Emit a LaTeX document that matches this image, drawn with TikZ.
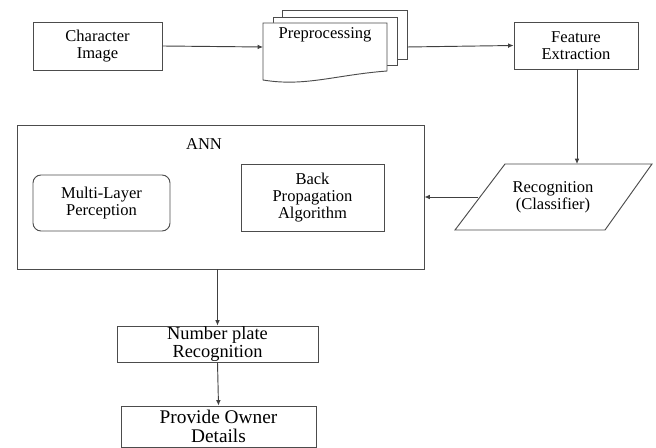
\documentclass[tikz,border=0pt]{standalone}
\usepackage{fontspec}
\setmainfont{Liberation Serif}
\usetikzlibrary{arrows.meta}

\begin{document}
\begin{tikzpicture}[x=0.75pt,y=-0.75pt,
    box/.style={draw=black!70,line width=0.7pt,inner sep=0pt,align=center,
      font=\fontsize{12.4}{12.6}\selectfont},
    doc/.style={draw=black!70,line width=0.7pt,fill=white},
    conn/.style={draw=black!75,line width=0.7pt,-{Latex[length=4pt,width=3.5pt]}}]
  \useasboundingbox (0,0) rectangle (656,448);
  % top row
  \node[box,minimum width=96.75pt,minimum height=36pt] (char) at (97.5,46) {Character\\Image};
  \draw[doc] (282,10) rectangle (407,59);
  \draw[doc] (273,17) rectangle (397,65);
  \draw[doc] (263,23) -- (387,23) -- (387,71)
    .. controls (335,75) and (305,87) .. (263,80) -- cycle;
  \node[font=\fontsize{12.4}{12.6}\selectfont] (pre) at (325,35) {Preprocessing};
  \coordinate (prein) at (263,47);
  \coordinate (preout) at (407,47);
  \node[box,minimum width=93pt,minimum height=35.25pt] (feat) at (576,45.5) {Feature\\Extraction};
  % classifier
  \draw[doc] (505,164) -- (652,164) -- (605,230) -- (455,230) -- cycle;
  \node[align=center,font=\fontsize{12.4}{12.6}\selectfont] (reco) at (553,197) {Recognition\\(Classifier)};
  \coordinate (recotop) at (577,164);
  \coordinate (recoleft) at (478,197);
  % ANN block
  \node[box,minimum width=305.25pt,minimum height=108pt] (ann) at (220.5,197) {};
  \node[font=\fontsize{12.4}{12.6}\selectfont] (annlbl) at (204,144) {ANN};
  \node[box,rounded corners=6pt,minimum width=102.75pt,minimum height=42pt] (mlp) at (101.5,203) {Multi-Layer\\Perception};
  \node[box,minimum width=107.25pt,minimum height=50.25pt] (bp) at (312.5,197.5) {Back\\Propagation\\Algorithm};
  % bottom
  \node[box,minimum width=150.75pt,minimum height=27pt,font=\fontsize{13.8}{13}\selectfont] (npr) at (217.5,344) {Number plate\\Recognition};
  \node[box,minimum width=146.25pt,minimum height=30.75pt,font=\fontsize{14.5}{14.3}\selectfont] (owner) at (218.5,426.5) {Provide Owner\\Details};

  \draw[conn] (char.east) -- (prein);
  \draw[conn] (preout) -- (feat.west);
  \draw[conn] (feat.south -| recotop) -- (recotop);
  \draw[conn] (recoleft) -- (ann.east |- recoleft);
  \draw[conn] (ann.south -| npr.north) -- (npr.north);
  \draw[conn] (npr.south) -- (owner.north);
\end{tikzpicture}
\end{document}
